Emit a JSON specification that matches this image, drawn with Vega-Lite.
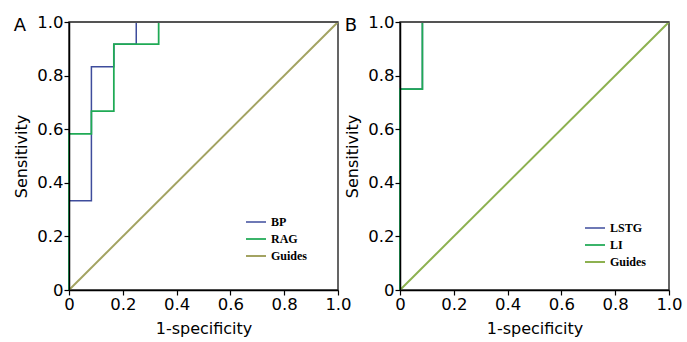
{
  "$schema": "https://vega.github.io/schema/vega-lite/v6.json",
  "padding": {"left": 13, "top": 13, "right": 5, "bottom": 2},
  "background": "white",
  "datasets": {
    "rocA": [
      {"series": "Guides", "fpr": 0, "tpr": 0, "o": 1},
      {"series": "Guides", "fpr": 1, "tpr": 1, "o": 2},
      {"series": "BP", "fpr": 0, "tpr": 0, "o": 1},
      {"series": "BP", "fpr": 0, "tpr": 0.333, "o": 2},
      {"series": "BP", "fpr": 0.0833, "tpr": 0.333, "o": 3},
      {"series": "BP", "fpr": 0.0833, "tpr": 0.833, "o": 4},
      {"series": "BP", "fpr": 0.1667, "tpr": 0.833, "o": 5},
      {"series": "BP", "fpr": 0.1667, "tpr": 0.917, "o": 6},
      {"series": "BP", "fpr": 0.25, "tpr": 0.917, "o": 7},
      {"series": "BP", "fpr": 0.25, "tpr": 1, "o": 8},
      {"series": "BP", "fpr": 1, "tpr": 1, "o": 9},
      {"series": "RAG", "fpr": 0, "tpr": 0, "o": 1},
      {"series": "RAG", "fpr": 0, "tpr": 0.583, "o": 2},
      {"series": "RAG", "fpr": 0.0833, "tpr": 0.583, "o": 3},
      {"series": "RAG", "fpr": 0.0833, "tpr": 0.667, "o": 4},
      {"series": "RAG", "fpr": 0.1667, "tpr": 0.667, "o": 5},
      {"series": "RAG", "fpr": 0.1667, "tpr": 0.917, "o": 6},
      {"series": "RAG", "fpr": 0.3333, "tpr": 0.917, "o": 7},
      {"series": "RAG", "fpr": 0.3333, "tpr": 1, "o": 8},
      {"series": "RAG", "fpr": 1, "tpr": 1, "o": 9}
    ],
    "rocB": [
      {"series": "Guides", "fpr": 0, "tpr": 0, "o": 1},
      {"series": "Guides", "fpr": 1, "tpr": 1, "o": 2},
      {"series": "LSTG", "fpr": 0, "tpr": 0, "o": 1},
      {"series": "LSTG", "fpr": 0, "tpr": 0.75, "o": 2},
      {"series": "LSTG", "fpr": 0.0833, "tpr": 0.75, "o": 3},
      {"series": "LSTG", "fpr": 0.0833, "tpr": 1, "o": 4},
      {"series": "LSTG", "fpr": 1, "tpr": 1, "o": 5},
      {"series": "LI", "fpr": 0, "tpr": 0, "o": 1},
      {"series": "LI", "fpr": 0, "tpr": 0.75, "o": 2},
      {"series": "LI", "fpr": 0.0833, "tpr": 0.75, "o": 3},
      {"series": "LI", "fpr": 0.0833, "tpr": 1, "o": 4},
      {"series": "LI", "fpr": 1, "tpr": 1, "o": 5}
    ]
  },
  "config": {
    "view": {"stroke": "#333333", "strokeWidth": 1.5},
    "axis": {
      "grid": false,
      "domainColor": "#000000",
      "domainWidth": 1.5,
      "tickColor": "#000000",
      "tickWidth": 1.2,
      "tickSize": 5,
      "labelFont": "DejaVu Sans",
      "labelFontSize": 16.5,
      "labelColor": "#000000",
      "labelPadding": 1,
      "labelFlush": false,
      "labelOverlap": false,
      "titleFont": "DejaVu Sans",
      "titleFontSize": 16,
      "titleFontWeight": "normal",
      "titleColor": "#000000"
    },
    "legend": {
      "orient": "none",
      "title": null,
      "labelFont": "Liberation Serif",
      "labelFontSize": 12,
      "labelFontWeight": "bold",
      "labelColor": "#000000",
      "symbolType": "stroke",
      "symbolSize": 400,
      "symbolStrokeWidth": 2.5,
      "rowPadding": -4,
      "labelOffset": 4
    },
    "title": {
      "font": "DejaVu Sans",
      "fontSize": 18,
      "fontWeight": "normal",
      "color": "#000000",
      "anchor": "start",
      "frame": "bounds",
      "offset": -21
    }
  },
  "spacing": 62,
  "bounds": "flush",
  "resolve": {"scale": {"color": "independent", "strokeWidth": "independent"}, "legend": {"color": "independent"}},
  "hconcat": [
    {
      "width": 269,
      "height": 268,
      "title": "A",
      "data": {"name": "rocA"},
      "layer": [
        {
          "mark": {"type": "line", "interpolate": "linear", "clip": false},
          "encoding": {
            "x": {"field": "fpr", "type": "quantitative", "scale": {"domain": [0, 1], "nice": false}, "axis": {"title": "1-specificity", "zindex": 1, "values": [0, 0.2, 0.4, 0.6, 0.8, 1], "labelExpr": "datum.value === 0 ? '0' : format(datum.value, '.1f')", "titlePadding": 8}},
            "y": {"field": "tpr", "type": "quantitative", "scale": {"domain": [0, 1], "nice": false}, "axis": {"title": "Sensitivity", "zindex": 1, "values": [0, 0.2, 0.4, 0.6, 0.8, 1], "labelExpr": "datum.value === 0 ? '0' : format(datum.value, '.1f')", "titlePadding": 7}},
            "order": {"field": "o", "type": "quantitative"},
            "color": {"field": "series", "type": "nominal", "scale": {"domain": ["BP", "RAG", "Guides"], "range": ["#3e4c9c", "#1faa55", "#a3a362"]}, "legend": {"orient": "none", "legendX": 176, "legendY": 189}},
            "strokeWidth": {"field": "series", "type": "nominal", "scale": {"domain": ["BP", "RAG", "Guides"], "range": [1.5, 2, 1]}, "legend": null}
          }
        },
        {
          "mark": {"type": "rule", "color": "#555555", "strokeWidth": 1.5},
          "encoding": {"y": {"datum": 1}}
        }
      ]
    },
    {
      "width": 269,
      "height": 268,
      "title": "B",
      "data": {"name": "rocB"},
      "layer": [
        {
          "mark": {"type": "line", "interpolate": "linear", "clip": false},
          "encoding": {
            "x": {"field": "fpr", "type": "quantitative", "scale": {"domain": [0, 1], "nice": false}, "axis": {"title": "1-specificity", "zindex": 1, "values": [0, 0.2, 0.4, 0.6, 0.8, 1], "labelExpr": "datum.value === 0 ? '0' : format(datum.value, '.1f')", "titlePadding": 8}},
            "y": {"field": "tpr", "type": "quantitative", "scale": {"domain": [0, 1], "nice": false}, "axis": {"title": "Sensitivity", "zindex": 1, "values": [0, 0.2, 0.4, 0.6, 0.8, 1], "labelExpr": "datum.value === 0 ? '0' : format(datum.value, '.1f')", "titlePadding": 7}},
            "order": {"field": "o", "type": "quantitative"},
            "color": {"field": "series", "type": "nominal", "scale": {"domain": ["LSTG", "LI", "Guides"], "range": ["#3e4c9c", "#1faa55", "#8db150"]}, "legend": {"orient": "none", "legendX": 184, "legendY": 195, "rowPadding": -6}},
            "strokeWidth": {"field": "series", "type": "nominal", "scale": {"domain": ["LSTG", "LI", "Guides"], "range": [1.5, 2, 1]}, "legend": null}
          }
        },
        {
          "mark": {"type": "rule", "color": "#555555", "strokeWidth": 1.5},
          "encoding": {"y": {"datum": 1}}
        }
      ]
    }
  ]
}
